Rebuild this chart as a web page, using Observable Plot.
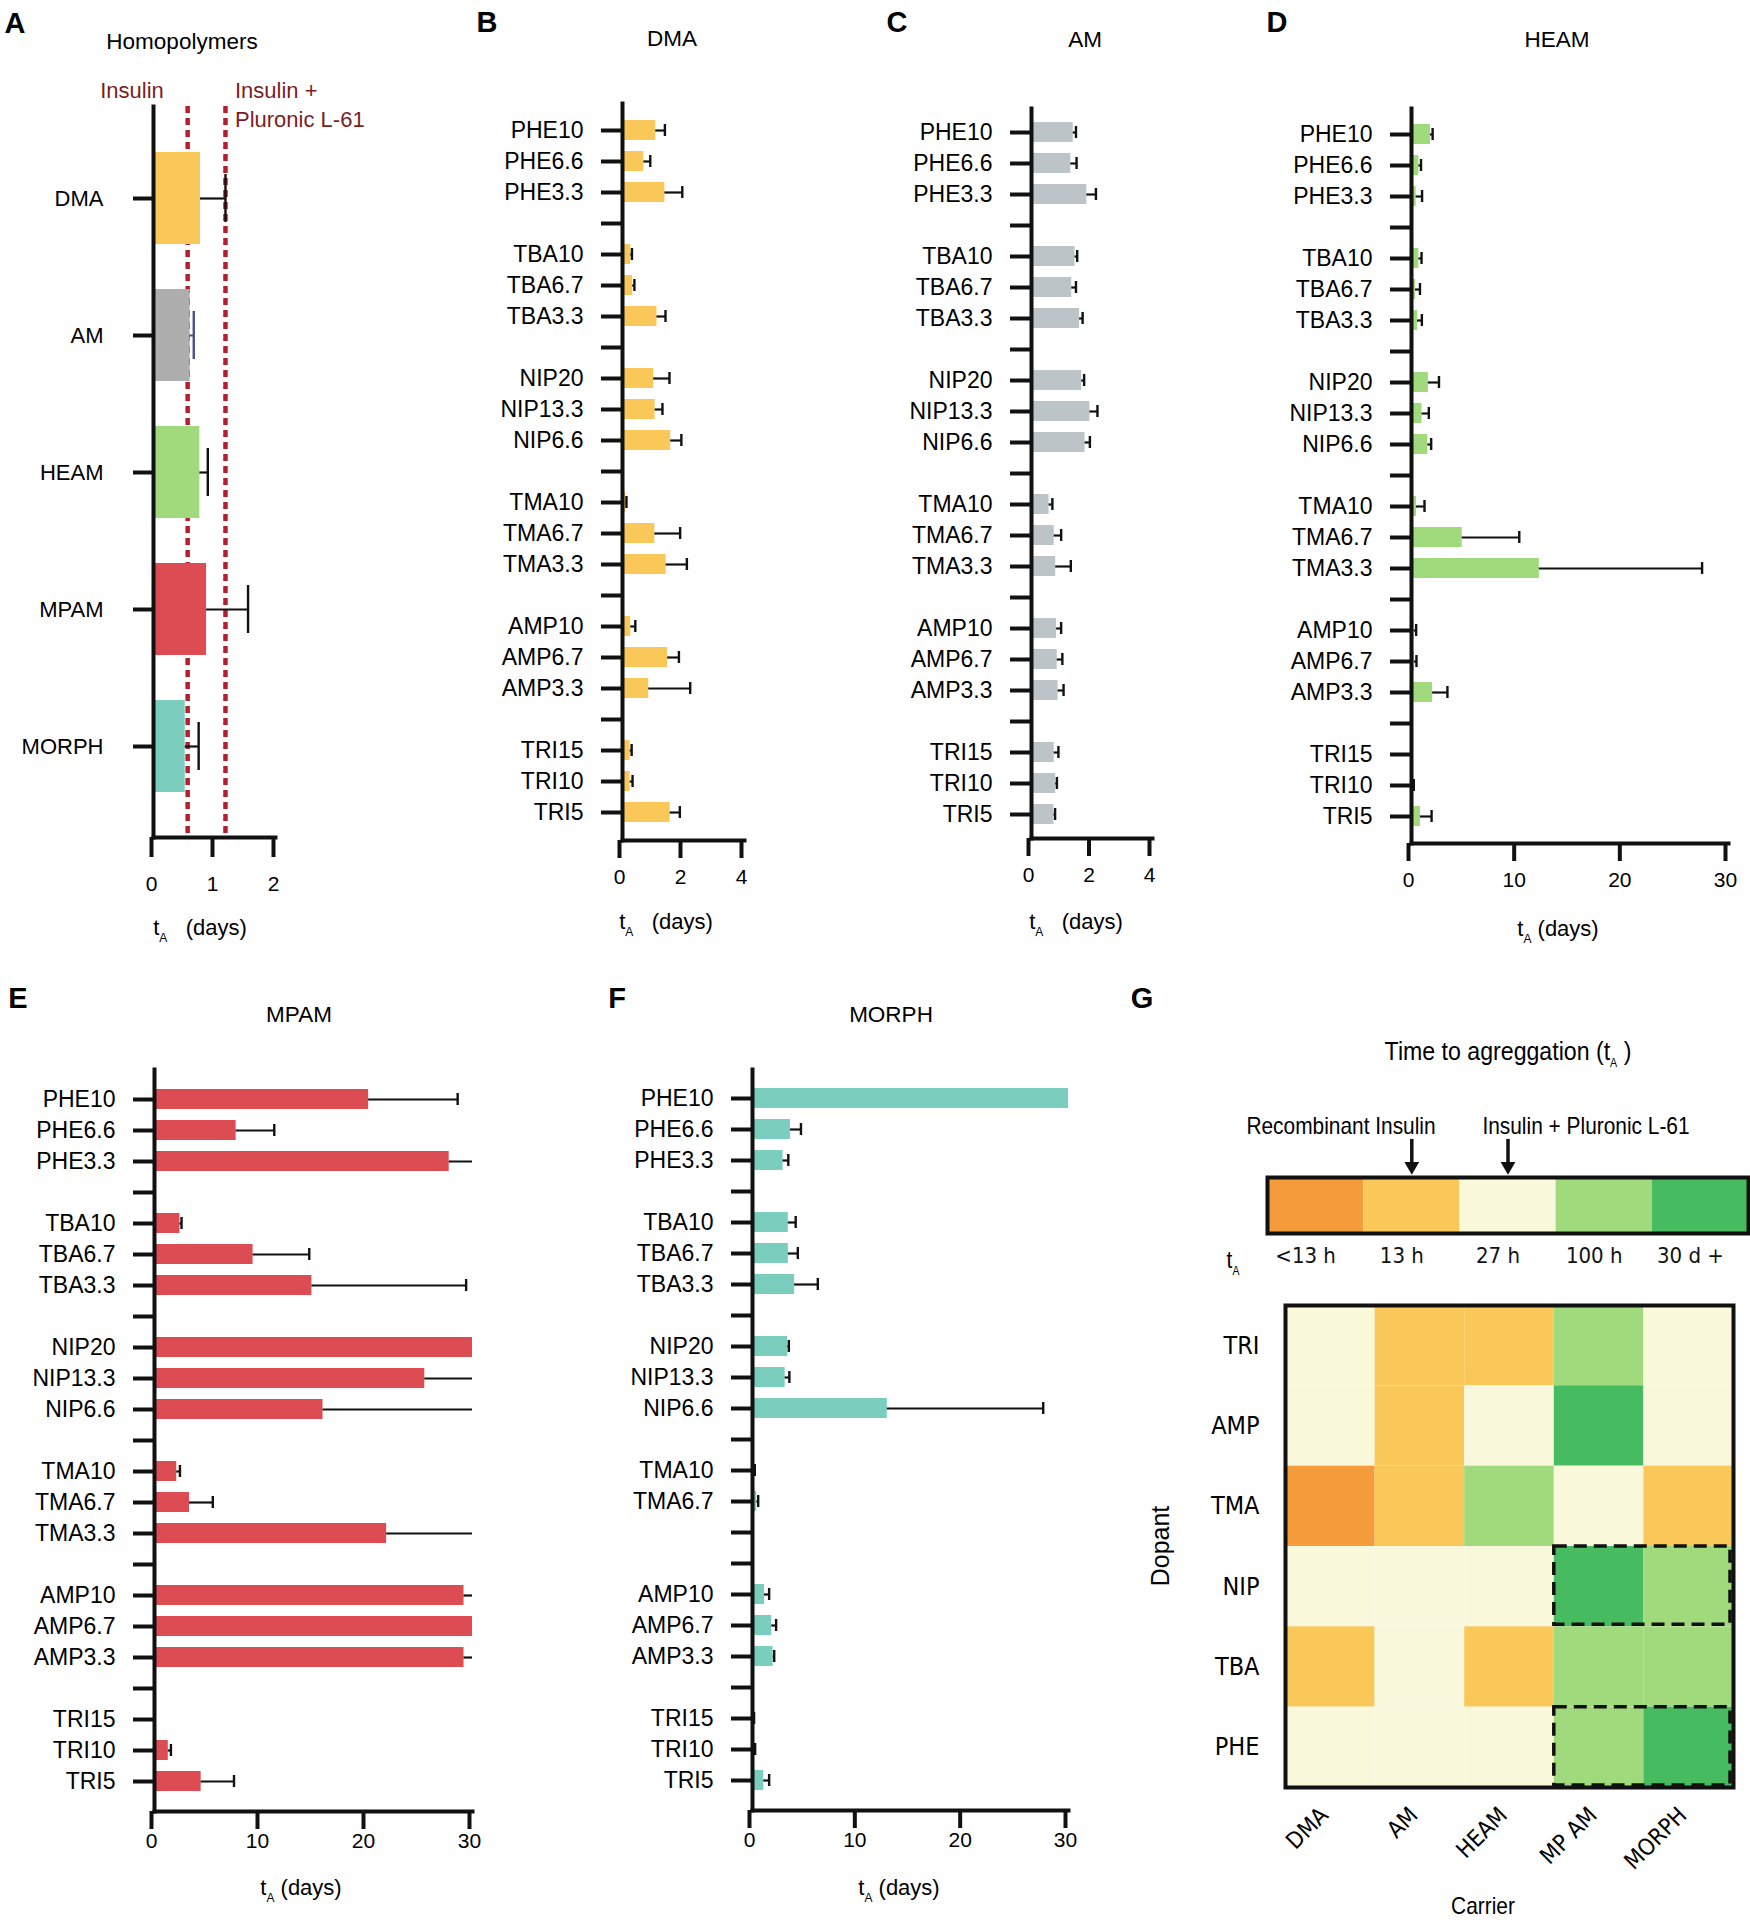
<!DOCTYPE html>
<html><head><meta charset="utf-8">
<script src="https://cdn.jsdelivr.net/npm/d3@7"></script>
<script src="https://cdn.jsdelivr.net/npm/@observablehq/plot@0.6"></script>
<style>
body{margin:0;background:#fff;}
#fig{position:relative;width:1750px;height:1920px;font-family:"Liberation Sans",Arial,sans-serif;color:#000;overflow:hidden;}
.abs{position:absolute;white-space:nowrap;line-height:1;}
.letter{font-weight:bold;font-size:29px;}
.title{font-size:22.5px;}
.xl{font-size:22px;}
.xl sub,.nsub sub{font-size:12px;vertical-align:-7px;}
.ins{font-size:22px;color:#7b1e1e;}
.narrow{font-family:"Liberation Sans",Arial,sans-serif;font-size:24px;}
.big{font-size:26px;}
.dop{font-size:25px;}
</style></head><body><div id="fig"></div>
<script>
// ---------------- data ----------------
const homopolymers = ["DMA","AM","HEAM","MPAM","MORPH"];
const homoMean = [0.77,0.60,0.76,0.87,0.52];
const homoSD   = [0.41,0.06,0.13,0.68,0.22];
const insulinDays = 0.56;      // recombinant insulin t_A
const pluronicDays = 1.18;     // insulin + Pluronic L-61 t_A

const compositions = ["PHE10","PHE6.6","PHE3.3","TBA10","TBA6.7","TBA3.3","NIP20","NIP13.3","NIP6.6",
  "TMA10","TMA6.7","TMA3.3","AMP10","AMP6.7","AMP3.3","TRI15","TRI10","TRI5"];

const dmaMean = [1.09,0.70,1.39,0.27,0.33,1.13,1.02,1.07,1.58,0.11,1.06,1.43,0.27,1.48,0.86,0.25,0.25,1.56];
const dmaSD   = [0.30,0.21,0.57,0.04,0.06,0.28,0.52,0.24,0.35,0.02,0.83,0.68,0.15,0.37,1.36,0.05,0.08,0.32];

const amMean = [1.38,1.30,1.83,1.44,1.33,1.59,1.66,1.93,1.77,0.58,0.75,0.80,0.83,0.85,0.88,0.75,0.80,0.74];
const amSD   = [0.09,0.19,0.30,0.07,0.14,0.10,0.08,0.25,0.16,0.11,0.23,0.50,0.15,0.17,0.18,0.14,0.04,0.04];

const heamMean = [1.8,0.7,0.44,0.7,0.38,0.57,1.6,1.0,1.55,0.47,4.8,12.1,0.25,0.28,2.0,0,0.06,0.85];
const heamSD   = [0.2,0.2,0.56,0.25,0.42,0.41,1.0,0.64,0.31,0.76,5.4,15.4,0.19,0.19,1.4,0,0.16,1.05];

const mpamMean = [20.2,7.7,27.8,2.4,9.3,14.85,30,25.5,15.9,2.1,3.3,21.9,29.2,30,29.2,0,1.3,4.4];
const mpamSD   = [8.4,3.6,3.0,0.15,5.3,14.55,0,6.0,15.0,0.3,2.2,10.0,2.0,0,2.0,0,0.25,3.1];

const morphMean = [30,3.6,2.9,3.4,3.4,4.0,3.35,3.1,12.8,0.15,0.4,null,1.14,1.83,1.96,0.05,0.13,1.07];
const morphSD   = [0,1.0,0.5,0.7,0.9,2.2,0.1,0.4,14.8,0.07,0.14,null,0.44,0.41,0.1,0.1,0.12,0.51];

const heatCarriers = ["DMA","AM","HEAM","MPAM","MORPH"];
const heatCarrierLabels = ["DMA","AM","HEAM","MP AM","MORPH"];
const heatDopants = ["TRI","AMP","TMA","NIP","TBA","PHE"];
const heatTRI = [2,1,1,3,2];
const heatAMP = [2,1,2,4,2];
const heatTMA = [0,1,3,2,1];
const heatNIP = [2,2,2,4,3];
const heatTBA = [1,2,1,3,3];
const heatPHE = [2,2,2,3,4];
const levelLabels = ["<13 h","13 h","27 h","100 h","30 d +"];
const benchmarks = [{label:"Recombinant Insulin", level:1},{label:"Insulin + Pluronic L-61", level:2}];
const highlights = [{dopant:"NIP", from:"MPAM", to:"MORPH"},{dopant:"PHE", from:"MPAM", to:"MORPH"}];

// ---------------- styles ----------------
const levelPalette = ["#f49b3c","#f9c859","#faf8da","#a1d97d","#46bb5f"];
const homoPalette = ["#f9c859","#aeaeae","#a1d97d","#dc4c52","#7bcdbd"];
const FONT = "'Liberation Sans', Arial, sans-serif";
const NARROW = "'Liberation Sans Narrow', 'DejaVu Sans Condensed', sans-serif";

const fig = document.getElementById("fig");
function addText(html, x, y, cls, align="center", extra="") {
  const d = document.createElement("div");
  d.className = "abs " + cls;
  d.innerHTML = html;
  d.style.left = x + "px"; d.style.top = y + "px";
  const t = align === "center" ? "translate(-50%,-50%)" : align === "left" ? "translate(0,-50%)" : "translate(-100%,-50%)";
  d.style.transform = t + " " + extra;
  fig.appendChild(d);
}
function place(svg, left, top) {
  svg.style.position = "absolute";
  svg.style.left = left + "px";
  svg.style.top = top + "px";
  svg.style.overflow = "visible";
  svg.style.background = "transparent";
  svg.style.maxWidth = "none";
  fig.appendChild(svg);
}

// y domain with spacer ticks between dopant groups
const yDomain = [];
compositions.forEach((c, i) => {
  if (i > 0 && c.slice(0,3) !== compositions[i-1].slice(0,3)) yDomain.push("gap" + i);
  yDomain.push(c);
});

function barPanel({mean, sd, color, left, top, width, height, mL, mR, mT, mB, xMax, ticks, hide = [], tickPad}) {
  const rows = compositions.map((k, i) => ({k, v: mean[i], sd: sd[i]})).filter(d => d.v != null);
  const errs = rows.filter(d => d.sd > 0);
  const caps = errs.filter(d => d.v + d.sd <= xMax);
  const svg = Plot.plot({
    width, height, marginLeft: mL, marginRight: mR, marginTop: mT, marginBottom: mB,
    style: {fontFamily: FONT, fontSize: "22px"},
    x: {domain: [0, xMax]},
    y: {domain: yDomain, padding: 0.34},
    marks: [
      Plot.barX(rows, {x: "v", y: "k", fill: color}),
      Plot.ruleY(errs, {y: "k", x1: "v", x2: d => d.v + d.sd, stroke: "#111", strokeWidth: 2.2, clip: true}),
      Plot.tickX(caps, {x: d => d.v + d.sd, y: "k", stroke: "#111", strokeWidth: 2.4, insetTop: 4, insetBottom: 4}),
      Plot.frame({anchor: "left", strokeWidth: 4, stroke: "#111"}),
      Plot.frame({anchor: "bottom", strokeWidth: 4, stroke: "#111"}),
      Plot.axisY({tickSize: 21, strokeWidth: 4, stroke: "#111", tickPadding: 18, fontSize: 23, label: null,
        tickFormat: d => (d.startsWith("gap") || hide.includes(d)) ? "" : d}),
      Plot.axisX(ticks, {tickSize: 18, strokeWidth: 4, stroke: "#111", tickPadding: tickPad, fontSize: 21, label: null, dx: -3})
    ]
  });
  place(svg, left, top);
}

// ---------------- Panel A ----------------
{
  const rows = homopolymers.map((k, i) => ({k, v: homoMean[i], sd: homoSD[i]}));
  const svg = Plot.plot({
    width: 400, height: 960, marginLeft: 153, marginRight: 125, marginTop: 106, marginBottom: 123,
    style: {fontFamily: FONT, fontSize: "22px"},
    x: {domain: [0, 2]},
    y: {domain: homopolymers, padding: 0.33},
    color: {domain: homopolymers, range: homoPalette},
    marks: [
      Plot.ruleX([insulinDays, pluronicDays], {stroke: "#b41f2d", strokeWidth: 4.5, strokeDasharray: "7,5"}),
      Plot.barX(rows, {x: "v", y: "k", fill: "k"}),
      Plot.ruleY(rows.filter(d => d.k !== "AM"), {y: "k", x1: "v", x2: d => d.v + d.sd, stroke: "#111", strokeWidth: 2.2}),
      Plot.tickX(rows.filter(d => d.k !== "AM"), {x: d => d.v + d.sd, y: "k", stroke: "#111", strokeWidth: 2.4, insetTop: 22, insetBottom: 22}),
      Plot.ruleY(rows.filter(d => d.k === "AM"), {y: "k", x1: "v", x2: d => d.v + d.sd, stroke: "#4b4f8f", strokeWidth: 2}),
      Plot.tickX(rows.filter(d => d.k === "AM"), {x: d => d.v + d.sd, y: "k", stroke: "#4b4f8f", strokeWidth: 2.4, insetTop: 22, insetBottom: 22}),
      Plot.frame({anchor: "left", strokeWidth: 4, stroke: "#111"}),
      Plot.frame({anchor: "bottom", strokeWidth: 4, stroke: "#111"}),
      Plot.axisY({tickSize: 20, strokeWidth: 4, stroke: "#111", tickPadding: 30, fontSize: 22, label: null}),
      Plot.axisX([0, 1, 2], {tickSize: 20, strokeWidth: 4, stroke: "#111", tickPadding: 19, fontSize: 21, label: null, dx: -2})
    ]
  });
  place(svg, 0, 0);
}

// ---------------- Panels B–F ----------------
barPanel({mean: dmaMean, sd: dmaSD, color: "#f9c859", left: 460, top: 0, width: 300, height: 960,
  mL: 162, mR: 16, mT: 103, mB: 120, xMax: 4, ticks: [0, 2, 4], tickPad: 11});
barPanel({mean: amMean, sd: amSD, color: "#bcc4c7", left: 860, top: 0, width: 300, height: 960,
  mL: 171, mR: 8, mT: 108, mB: 122, xMax: 4, ticks: [0, 2, 4], tickPad: 11});
barPanel({mean: heamMean, sd: heamSD, color: "#a1d97d", left: 1250, top: 0, width: 500, height: 960,
  mL: 161, mR: 22, mT: 108, mB: 117, xMax: 30, ticks: [0, 10, 20, 30], tickPad: 11});
barPanel({mean: mpamMean, sd: mpamSD, color: "#dc4c52", left: 0, top: 980, width: 560, height: 940,
  mL: 154, mR: 88, mT: 89, mB: 109, xMax: 30, ticks: [0, 10, 20, 30], tickPad: 4});
barPanel({mean: morphMean, sd: morphSD, color: "#7bcdbd", left: 580, top: 980, width: 520, height: 940,
  mL: 172, mR: 32, mT: 89, mB: 110, xMax: 30, ticks: [0, 10, 20, 30], tickPad: 4, hide: ["TMA3.3"]});

// ---------------- Panel G: colour key ----------------
{
  const levels = levelLabels.map((label, i) => ({label, i}));
  const svg = Plot.plot({
    width: 630, height: 190, marginLeft: 147, marginRight: 2, marginTop: 87, marginBottom: 47,
    style: {fontFamily: NARROW, fontSize: "22px"},
    x: {domain: [0, 5], axis: null},
    y: {domain: [0, 1], axis: null},
    color: {type: "ordinal", domain: [0, 1, 2, 3, 4], range: levelPalette},
    marks: [
      Plot.rect(levels, {x1: "i", x2: d => d.i + 1, y1: 0, y2: 1, fill: "i"}),
      Plot.frame({strokeWidth: 4, stroke: "#111"}),
      Plot.text(levels, {x: d => d.i + 0.5, frameAnchor: "bottom", dy: 29, dx: -10, text: "label", fontSize: 22, fill: "#111"}),
      Plot.ruleX(benchmarks, {x: d => d.level + 0.5, y1: 1.68, y2: 1.24, stroke: "#111", strokeWidth: 3.5}),
      Plot.dot(benchmarks, {x: d => d.level + 0.5, y: 1.2, symbol: "triangle", r: 5.5, rotate: 180, fill: "#111", stroke: "none"})
    ]
  });
  place(svg, 1120, 1090);
}

// ---------------- Panel G: heat map ----------------
{
  const heatRows = [heatTRI, heatAMP, heatTMA, heatNIP, heatTBA, heatPHE];
  const cells = heatRows.flatMap((row, r) => row.map((level, c) => ({r, c, level})));
  const boxes = highlights.map(h => ({
    x1: heatCarriers.indexOf(h.from), x2: heatCarriers.indexOf(h.to) + 1,
    y1: heatDopants.indexOf(h.dopant), y2: heatDopants.indexOf(h.dopant) + 1
  }));
  const svg = Plot.plot({
    width: 630, height: 640, marginLeft: 165, marginRight: 17, marginTop: 25, marginBottom: 133,
    style: {fontFamily: NARROW, fontSize: "25px"},
    x: {domain: [0, 5]},
    y: {domain: [0, 6], reverse: true},
    color: {type: "ordinal", domain: [0, 1, 2, 3, 4], range: levelPalette},
    marks: [
      Plot.rect(cells, {x1: "c", x2: d => d.c + 1, y1: "r", y2: d => d.r + 1, fill: "level"}),
      Plot.rect(boxes, {x1: "x1", x2: "x2", y1: "y1", y2: "y2", fill: "none", stroke: "#111", strokeWidth: 3.5, strokeDasharray: "13,7", insetRight: 3, insetBottom: 2}),
      Plot.frame({strokeWidth: 4, stroke: "#111"}),
      Plot.axisY(heatDopants.map((d, i) => i + 0.5), {tickSize: 0, tickPadding: 26, fontSize: 25, label: null,
        tickFormat: v => heatDopants[Math.floor(v)]}),
      Plot.axisX(heatCarriers.map((d, i) => i + 0.5), {tickSize: 0, tickPadding: 24, fontSize: 23, label: null, tickRotate: -45, dx: -6,
        tickFormat: v => heatCarrierLabels[Math.floor(v)]})
    ]
  });
  place(svg, 1120, 1280);
}

// ---------------- text annotations ----------------
addText("A", 15, 23, "letter");
addText("B", 487, 22, "letter");
addText("C", 897, 22, "letter");
addText("D", 1277, 22, "letter");
addText("E", 18, 998, "letter");
addText("F", 617, 998, "letter");
addText("G", 1142, 998, "letter");

addText("Homopolymers", 182, 42, "title");
addText("DMA", 672, 39, "title");
addText("AM", 1085, 40, "title");
addText("HEAM", 1557, 40, "title");
addText("MPAM", 299, 1015, "title");
addText("MORPH", 891, 1015, "title");

addText("Insulin", 132, 91, "ins");
addText("Insulin +", 235, 91, "ins", "left");
addText("Pluronic L-61", 235, 120, "ins", "left");

addText("t<sub>A</sub>&nbsp;&nbsp;&nbsp;(days)", 200, 930, "xl");
addText("t<sub>A</sub>&nbsp;&nbsp;&nbsp;(days)", 666, 924, "xl");
addText("t<sub>A</sub>&nbsp;&nbsp;&nbsp;(days)", 1076, 924, "xl");
addText("t<sub>A</sub> (days)", 1558, 931, "xl");
addText("t<sub>A</sub> (days)", 301, 1890, "xl");
addText("t<sub>A</sub> (days)", 899, 1890, "xl");

const NX = "scaleX(0.87)";
addText("Time to agreggation (t<sub>A</sub> )", 1508, 1053, "narrow big nsub", "center", "scaleX(0.89)");
addText("Recombinant Insulin", 1341, 1126, "narrow nsub", "center", NX);
addText("Insulin + Pluronic L-61", 1586, 1126, "narrow nsub", "center", NX);
addText("t<sub>A</sub>", 1233, 1262, "narrow nsub", "center", NX);
addText("Dopant", 1160, 1546, "narrow dop", "center", "rotate(-90deg)");
addText("Carrier", 1483, 1906, "narrow", "center", NX);
</script></body></html>
